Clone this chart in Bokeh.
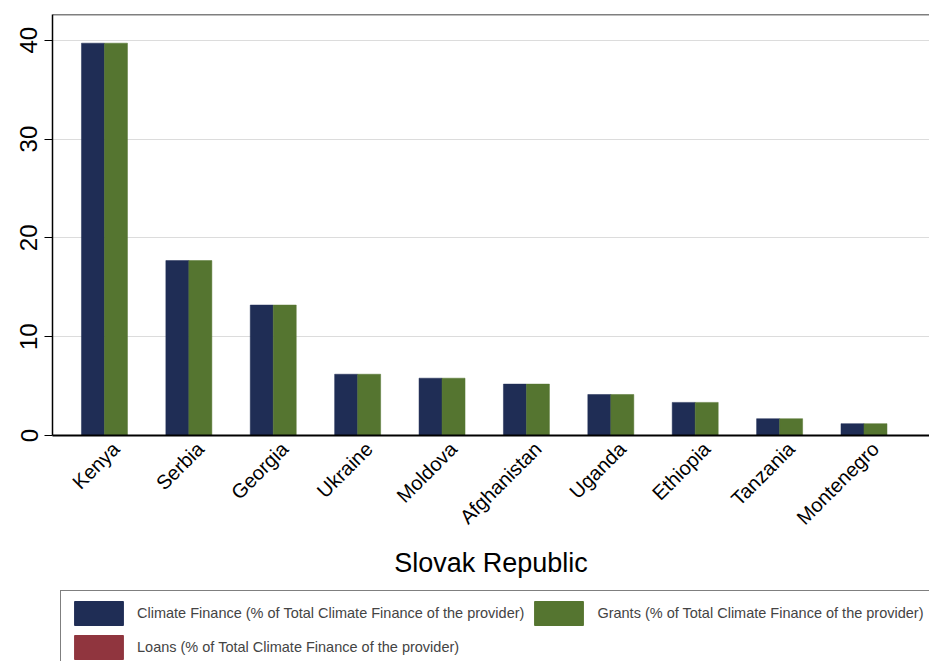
import math
from bokeh.plotting import figure
from bokeh.models import Range1d, FixedTicker, Legend, LegendItem, Span
from bokeh.layouts import column
from bokeh.embed import file_html
from bokeh.resources import INLINE

countries = ["Kenya", "Serbia", "Georgia", "Ukraine", "Moldova", "Afghanistan",
             "Uganda", "Ethiopia", "Tanzania", "Montenegro"]
climate_finance = [39.7, 17.7, 13.2, 6.2, 5.8, 5.2, 4.15, 3.35, 1.7, 1.2]
grants = [39.7, 17.7, 13.2, 6.2, 5.8, 5.2, 4.15, 3.35, 1.7, 1.2]
loans = [0, 0, 0, 0, 0, 0, 0, 0, 0, 0]
series_labels = ["Climate Finance (% of Total Climate Finance of the provider)",
                 "Grants (% of Total Climate Finance of the provider)",
                 "Loans (% of Total Climate Finance of the provider)"]
colors = ["#1f2d55", "#557530", "#90353e"]
title_text = "Slovak Republic"
y_ticks = [0, 10, 20, 30, 40]

FONT = "Liberation Sans"
xs = list(range(len(countries)))
bw = 0.2725
YMAX = 42.6

p = figure(width=929, height=580, output_backend="svg", toolbar_location=None,
           x_range=Range1d(-0.752, 9.64), y_range=Range1d(0, YMAX),
           min_border_left=52, min_border_top=14, min_border_right=0, min_border_bottom=145)
p.outline_line_color = None
p.background_fill_color = "white"
p.border_fill_color = "white"

renderers = []
for k, (vals, col) in enumerate(zip([climate_finance, grants, loans], colors)):
    r = p.vbar(x=[x + (k - 1) * bw for x in xs], top=vals, width=bw, bottom=0,
               fill_color=col, line_color=col, line_width=0.5)
    renderers.append(r)

p.add_layout(Span(location=YMAX, dimension="width", line_color="black", line_width=1.5))

p.xgrid.grid_line_color = None
p.ygrid.grid_line_color = "#dcdcdc"
p.ygrid.grid_line_width = 1.2
p.ygrid.ticker = FixedTicker(ticks=y_ticks[1:])

p.yaxis.ticker = FixedTicker(ticks=y_ticks)
p.yaxis.major_label_orientation = "vertical"
p.yaxis.major_label_text_font = FONT
p.yaxis.major_label_text_font_size = "24px"
p.yaxis.major_label_text_color = "black"
p.yaxis.axis_line_color = "black"
p.yaxis.axis_line_width = 1.5
p.yaxis.major_tick_out = 8
p.yaxis.major_tick_in = 0
p.yaxis.major_tick_line_color = "black"
p.yaxis.minor_tick_line_color = None
p.yaxis.major_label_standoff = 7

p.xaxis.ticker = FixedTicker(ticks=xs)
p.xaxis.major_label_overrides = {i: c for i, c in enumerate(countries)}
p.xaxis.major_label_orientation = math.pi / 4
p.xaxis.major_label_text_font = FONT
p.xaxis.major_label_text_font_size = "20px"
p.xaxis.major_label_text_color = "black"
p.xaxis.axis_line_color = "black"
p.xaxis.axis_line_width = 2
p.xaxis.major_tick_line_color = None
p.xaxis.minor_tick_line_color = None
p.xaxis.major_label_standoff = 4
p.xaxis.axis_label = title_text
p.xaxis.axis_label_text_font = FONT
p.xaxis.axis_label_text_font_size = "27px"
p.xaxis.axis_label_text_font_style = "normal"
p.xaxis.axis_label_text_color = "black"
p.xaxis.axis_label_standoff = 8

# legend panel below the chart (swatch-only renderers kept outside the visible range)
lg = figure(width=929, height=81, output_backend="svg", toolbar_location=None,
            x_range=Range1d(0, 1), y_range=Range1d(0, 1),
            min_border_left=0, min_border_top=0, min_border_right=0, min_border_bottom=0)
lg.axis.visible = False
lg.grid.visible = False
lg.outline_line_color = None
lg_renderers = [lg.vbar(x=[-10], top=[-9], bottom=[-10], width=0.1, fill_color=c, line_color=c)
                for c in colors]

order = [0, 2, 1]
legend = Legend(items=[LegendItem(label=series_labels[i], renderers=[lg_renderers[i]]) for i in order],
                ncols=2, location=(8, -9),
                glyph_width=61, glyph_height=30, label_standoff=8,
                label_text_font=FONT, label_text_font_size="14.5px",
                label_height=30, spacing=4, padding=7, margin=0,
                border_line_color="black", border_line_width=1.2,
                background_fill_color="white", background_fill_alpha=1)
lg.add_layout(legend, "center")

layout = column(p, lg, spacing=0)
open("out.html", "w").write(file_html(layout, INLINE))
